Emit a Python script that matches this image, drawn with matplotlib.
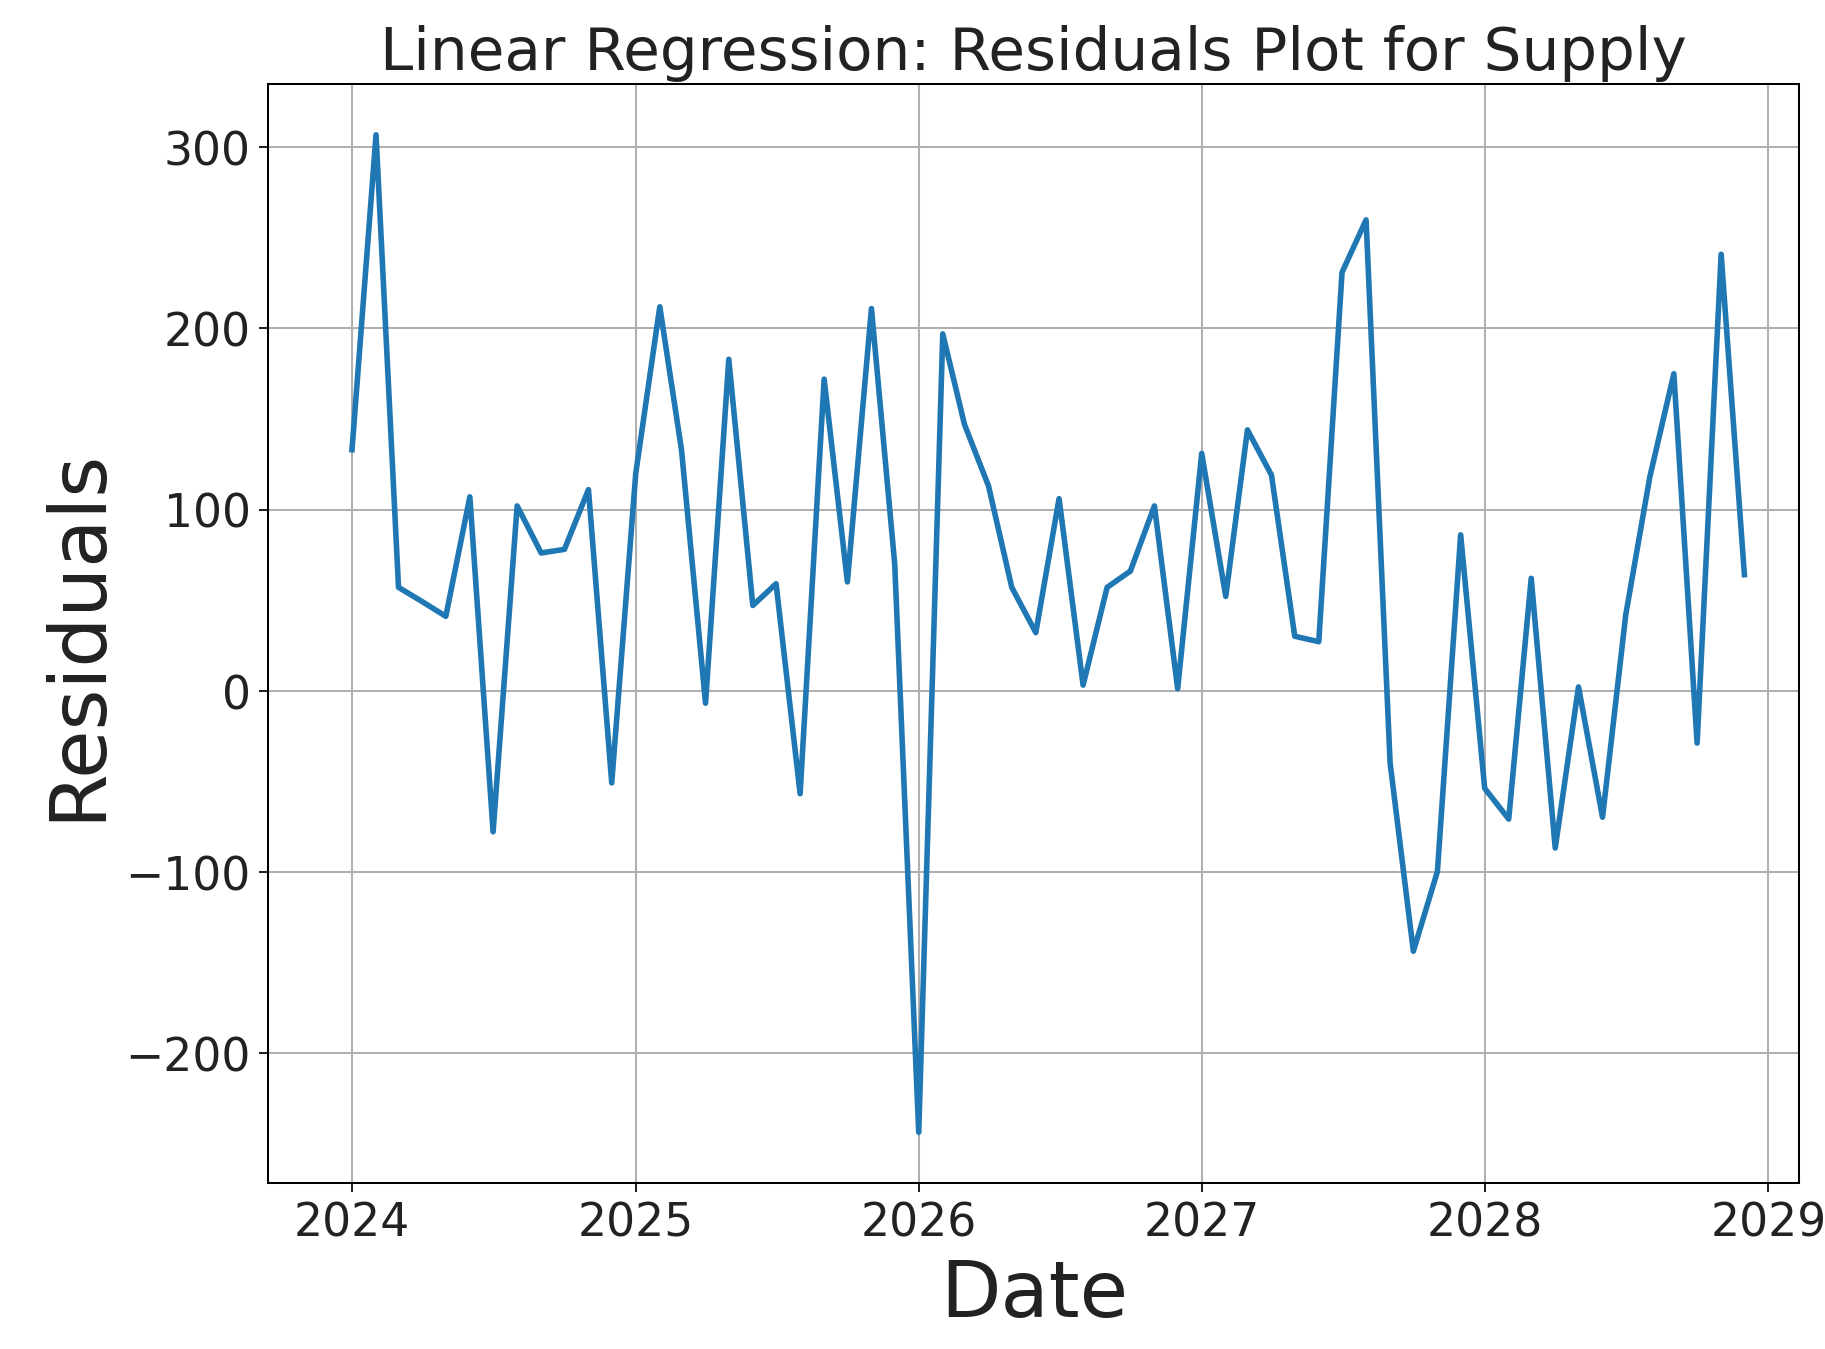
import numpy as np
import pandas as pd
import matplotlib
matplotlib.use("Agg")
import matplotlib.pyplot as plt

# monthly residuals, Jan 2024 .. Dec 2028
dates = pd.date_range("2024-01-01", periods=60, freq="MS")
residuals = [
    133, 307, 57, 49, 41, 107, -78, 102, 76, 78, 111, -51,
    120, 212, 133, -7, 183, 47, 59, -57, 172, 60, 211, 70,
    -244, 197, 147, 113, 57, 32, 106, 3, 57, 66, 102, 1,
    131, 52, 144, 119, 30, 27, 231, 260, -40, -144, -100, 86,
    -54, -71, 62, -87, 2, -70, 42, 118, 175, -29, 241, 64,
]

fig = plt.figure(figsize=(10, 7.397), dpi=182.5)
ax = fig.add_axes([0.147, 0.123, 0.839, 0.814])
ax.plot(dates, residuals, color="#1f77b4", linewidth=2.2)

ax.set_title("Linear Regression: Residuals Plot for Supply", fontsize=23.5, color="#222222")
ax.set_xlabel("Date", fontsize=31, color="#222222")
ax.set_ylabel("Residuals", fontsize=31, color="#222222")
ax.tick_params(labelsize=18, colors="#222222")
ax.grid(True, color="#b0b0b0", linewidth=0.8)
ax.set_ylim(-272, 335)
ax.set_xlim(pd.Timestamp("2023-09-15"), pd.Timestamp("2029-02-10"))

fig.savefig("out.png", dpi=182.5)
